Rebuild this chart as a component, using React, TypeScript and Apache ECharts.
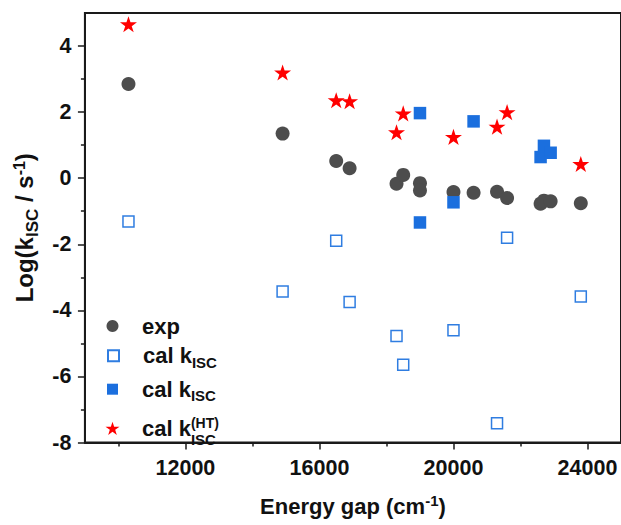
import React, { useEffect, useRef } from 'react';
import * as echarts from 'echarts';

// ---- data ----
const expX = [10300, 14900, 16500, 16900, 18300, 18500, 19000, 19000, 20000, 20600, 21300, 21600, 22600, 22700, 22900, 23800];
const expY = [2.85, 1.35, 0.52, 0.30, -0.17, 0.10, -0.15, -0.37, -0.42, -0.44, -0.41, -0.60, -0.77, -0.68, -0.70, -0.76];

const openX = [10300, 14900, 16500, 16900, 18300, 18500, 20000, 21300, 21600, 23800];
const openY = [-1.31, -3.43, -1.89, -3.75, -4.78, -5.65, -4.60, -7.42, -1.80, -3.58];

const filledX = [19000, 19000, 20000, 20600, 22600, 22700, 22900];
const filledY = [1.97, -1.34, -0.73, 1.72, 0.64, 0.98, 0.77];

const starX = [10300, 14900, 16500, 16900, 18300, 18500, 20000, 21300, 21600, 23800];
const starY = [4.66, 3.20, 2.36, 2.33, 1.39, 1.96, 1.25, 1.56, 2.00, 0.43];

const xMajorTicks = [12000, 16000, 20000, 24000];
const xMinorTicks = [10000, 14000, 18000, 22000];
const yMajorTicks = [-8, -6, -4, -2, 0, 2, 4];
const yMinorTicks = [-7, -5, -3, -1, 1, 3];

const FONT = "'Liberation Sans', Arial, Helvetica, sans-serif";
const STAR =
  'path://M50,0L61.23,34.55L97.55,34.55L68.17,55.9L79.39,90.45L50,69.1L20.61,90.45L31.83,55.9L2.45,34.55L38.77,34.55Z';

function pairs(xs: number[], ys: number[]) {
  return xs.map((x, i) => [x, ys[i]]);
}

export default function App() {
  const ref = useRef<HTMLDivElement>(null);

  useEffect(() => {
    const chart = echarts.init(ref.current as HTMLDivElement, null, { renderer: 'svg' });
    const axisColor = '#1a1a1a';
    const txt = '#111111';

    const legendRich: any = {
      m: { fontFamily: FONT, fontWeight: 'bold', fontSize: 22, color: txt, lineHeight: 24 },
      s: { fontFamily: FONT, fontWeight: 'bold', fontSize: 15, color: txt, lineHeight: 24, padding: [13.4, 0, 0, 0] },
      p: { fontFamily: FONT, fontWeight: 'bold', fontSize: 14, color: txt, lineHeight: 24, padding: [0, 0, 11, 0] },
      s2: { fontFamily: FONT, fontWeight: 'bold', fontSize: 15, color: txt, lineHeight: 24, padding: [22.6, 0, 0, -28] },
    };

    // top = wanted text/icon centre minus the upper half of the text box
    const makeLegend = (name: string, size: number, cx: number, top: number, fmt: string) => ({
      show: true,
      orient: 'vertical',
      left: cx - size / 2,
      top,
      itemWidth: size,
      itemHeight: size,
      padding: 0,
      itemGap: 0,
      selectedMode: false,
      data: [name],
      formatter: () => fmt,
      textStyle: {
        fontFamily: FONT,
        fontWeight: 'bold',
        fontSize: 22,
        color: txt,
        lineHeight: 24,
        padding: [0, 0, 0, 24.5 - size / 2],
        rich: legendRich,
      },
    });

    const baseX = {
      type: 'value',
      min: 9000,
      max: 25000,
      position: 'bottom',
      splitLine: { show: false },
    };
    const baseY = {
      type: 'value',
      min: -8,
      max: 5,
      position: 'left',
      splitLine: { show: false },
    };

    chart.setOption({
      animation: false,
      backgroundColor: '#ffffff',
      grid: {
        left: 84,
        top: 13,
        right: -2,
        bottom: 79,
        show: true,
        borderColor: axisColor,
        borderWidth: 2,
        backgroundColor: 'transparent',
      },
      legend: [
        makeLegend('exp', 12, 112.5, 314, '{m|exp}'),
        makeLegend('calOpen', 11, 112.5, 341.5, '{m|cal k}{s|ISC}'),
        makeLegend('calFilled', 11, 112.5, 375, '{m|cal k}{s|ISC}'),
        makeLegend('calHT', 14, 112.5, 409.5, '{m|cal k}{p|(HT)}{s2|ISC}'),
      ],
      xAxis: [
        {
          ...baseX,
          axisLine: { show: true, onZero: false, lineStyle: { color: axisColor, width: 2 } },
          axisTick: { show: true, inside: false, length: 7, customValues: xMajorTicks, lineStyle: { color: axisColor, width: 1.5 } },
          axisLabel: {
            show: true,
            customValues: xMajorTicks,
            formatter: (v: number) => String(v),
            margin: 14,
            fontFamily: FONT,
            fontWeight: 'bold',
            fontSize: 21.5,
            color: txt,
          },
          name: '{m|Energy gap (cm}{p|-1}{m|)}',
          nameLocation: 'middle',
          nameGap: 51,
          nameTextStyle: {
            fontFamily: FONT,
            fontWeight: 'bold',
            fontSize: 22,
            color: txt,
            lineHeight: 26,
            rich: {
              m: { fontFamily: FONT, fontWeight: 'bold', fontSize: 22, color: txt, lineHeight: 26 },
              p: { fontFamily: FONT, fontWeight: 'bold', fontSize: 15, color: txt, lineHeight: 26, padding: [0, 0, 12, 0] },
            },
          },
        },
        {
          ...baseX,
          axisLine: { show: false, onZero: false },
          axisTick: { show: true, inside: false, length: 4, customValues: xMinorTicks, lineStyle: { color: axisColor, width: 1.5 } },
          axisLabel: { show: false },
        },
      ],
      yAxis: [
        {
          ...baseY,
          axisLine: { show: true, onZero: false, lineStyle: { color: axisColor, width: 2 } },
          axisTick: { show: true, inside: false, length: 7, customValues: yMajorTicks, lineStyle: { color: axisColor, width: 1.5 } },
          axisLabel: {
            show: true,
            customValues: yMajorTicks,
            formatter: (v: number) => String(v),
            margin: 13.5,
            fontFamily: FONT,
            fontWeight: 'bold',
            fontSize: 21.5,
            color: txt,
          },
          name: '{m|Log(k}{s|ISC}{m| }{m|/ s}{p|-1}{m|)}',
          nameLocation: 'middle',
          nameGap: 43,
          nameTextStyle: {
            fontFamily: FONT,
            fontWeight: 'bold',
            fontSize: 24,
            color: txt,
            lineHeight: 26,
            rich: {
              m: { fontFamily: FONT, fontWeight: 'bold', fontSize: 24, color: txt, lineHeight: 26 },
              s: { fontFamily: FONT, fontWeight: 'bold', fontSize: 17, color: txt, lineHeight: 26, padding: [16.4, 0, 0, 0] },
              p: { fontFamily: FONT, fontWeight: 'bold', fontSize: 16, color: txt, lineHeight: 26, padding: [0, 0, 11.4, 0] },
            },
          },
        },
        {
          ...baseY,
          axisLine: { show: false, onZero: false },
          axisTick: { show: true, inside: false, length: 4, customValues: yMinorTicks, lineStyle: { color: axisColor, width: 1.5 } },
          axisLabel: { show: false },
        },
      ],
      series: [
        {
          name: 'exp',
          type: 'scatter',
          xAxisIndex: 0,
          yAxisIndex: 0,
          data: pairs(expX, expY),
          symbol: 'circle',
          symbolSize: 14,
          itemStyle: { color: '#4d4d4d', opacity: 1 },
          emphasis: { disabled: true },
        },
        {
          name: 'calOpen',
          type: 'scatter',
          xAxisIndex: 0,
          yAxisIndex: 0,
          data: pairs(openX, openY),
          symbol: 'rect',
          symbolSize: 11,
          itemStyle: { color: '#ffffff', borderColor: '#2f7de1', borderWidth: 1.5, opacity: 1 },
          emphasis: { disabled: true },
        },
        {
          name: 'calFilled',
          type: 'scatter',
          xAxisIndex: 0,
          yAxisIndex: 0,
          data: pairs(filledX, filledY),
          symbol: 'rect',
          symbolSize: 12.5,
          itemStyle: { color: '#1b6fde', opacity: 1 },
          emphasis: { disabled: true },
        },
        {
          name: 'calHT',
          type: 'scatter',
          xAxisIndex: 0,
          yAxisIndex: 0,
          data: pairs(starX, starY),
          symbol: STAR,
          symbolKeepAspect: true,
          symbolSize: 17,
          itemStyle: { color: '#ff0000', opacity: 1 },
          emphasis: { disabled: true },
        },
      ],
    });

    return () => {
      chart.dispose();
    };
  }, []);

  return (
    <div
      ref={ref}
      style={{ position: 'fixed', left: 0, top: 0, width: 621, height: 525, background: '#ffffff' }}
    />
  );
}
